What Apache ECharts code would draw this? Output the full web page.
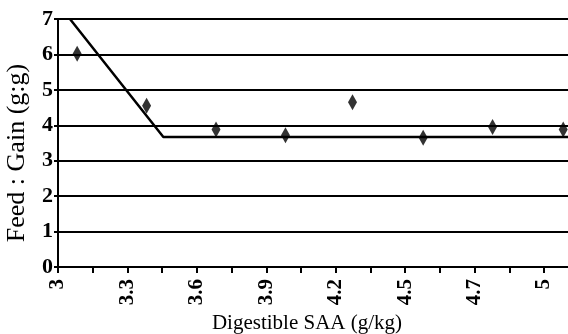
<!DOCTYPE html>
<html>
<head>
<meta charset="utf-8">
<script src="https://cdn.jsdelivr.net/npm/echarts@6/dist/echarts.min.js"></script>
<style>html,body{margin:0;padding:0;background:#fff}#c{width:568px;height:334px}</style>
</head>
<body>
<div id="c"></div>
<script>
// Data
var pointX = [3.08, 3.37, 3.66, 3.95, 4.23, 4.525, 4.815, 5.11];
var pointY = [6.02, 4.55, 3.88, 3.72, 4.65, 3.65, 3.95, 3.88];
var lineX = [3.05, 3.44, 5.13];
var lineY = [7, 3.67, 3.67];
var tickValues = [3, 3.29, 3.58, 3.87, 4.16, 4.45, 4.74, 5.03];
var tickLabels = ['3', '3.3', '3.6', '3.9', '4.2', '4.5', '4.7', '5'];
var minorTickValues = [3.145, 3.435, 3.725, 4.015, 4.305, 4.595, 4.885];

var allTicks = tickValues.concat(minorTickValues).sort(function(a,b){return a-b;});
var FONT = 'Liberation Serif';

var chart = echarts.init(document.getElementById('c'));
chart.setOption({
  animation: false,
  backgroundColor: '#fff',
  grid: {left: 58, right: 0, top: 19, bottom: 67, containLabel: false, outerBoundsMode: 'none'},
  xAxis: {
    type: 'value', min: 3, max: 5.13,
    name: 'Digestible SAA (g/kg)', nameLocation: 'middle', nameGap: 44,
    nameTextStyle: {fontFamily: FONT, fontSize: 21, color: '#000', padding: [0, 12, 0, 0]},
    axisLine: {show: true, onZero: false, lineStyle: {color: '#000', width: 2}},
    axisTick: {show: true, customValues: allTicks, length: 6, lineStyle: {color: '#000', width: 2}},
    axisLabel: {
      customValues: tickValues, rotate: 90, margin: 12,
      fontFamily: FONT, fontSize: 21, fontWeight: 'bold', color: '#000',
      formatter: function (v) {
        var i = Math.round((v - 3) / 0.29);
        return tickLabels[i];
      }
    },
    splitLine: {show: false}
  },
  yAxis: {
    type: 'value', min: 0, max: 7, interval: 1,
    name: 'Feed : Gain (g:g)', nameLocation: 'middle', nameGap: 28,
    nameTextStyle: {fontFamily: FONT, fontSize: 26, color: '#000', padding: [0, 20, 0, 0]},
    axisLine: {show: true, lineStyle: {color: '#000', width: 2}},
    axisTick: {show: true, length: 4, lineStyle: {color: '#000', width: 2}},
    axisLabel: {margin: 5, fontFamily: FONT, fontSize: 22, fontWeight: 'bold', color: '#000'},
    splitLine: {show: true, lineStyle: {color: '#000', width: 2}}
  },
  series: [
    {
      type: 'line',
      data: lineX.map(function (x, i) { return [x, lineY[i]]; }),
      symbol: 'none',
      lineStyle: {color: '#000', width: 2.5},
      z: 3
    },
    {
      type: 'scatter',
      data: pointX.map(function (x, i) { return [x, pointY[i]]; }),
      symbol: 'diamond',
      symbolSize: [9, 16],
      itemStyle: {color: '#000'},
      z: 4
    }
  ]
});
</script>
</body>
</html>
